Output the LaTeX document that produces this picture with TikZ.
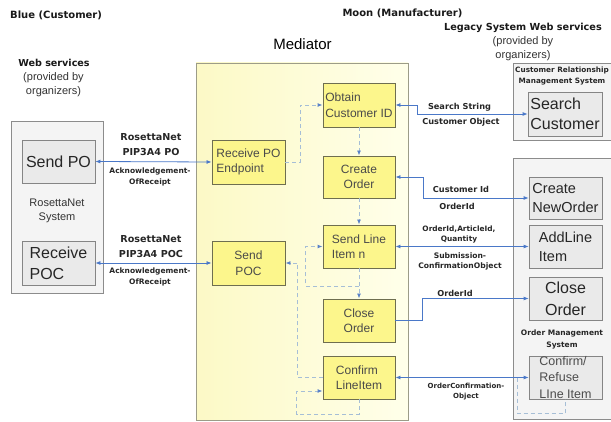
\documentclass[tikz,border=0pt]{standalone}
\usepackage{fontspec}
\setmainfont{Liberation Sans}
\newfontfamily\vlab{DejaVu Sans}
\usetikzlibrary{arrows.meta,calc}
\definecolor{arrblue}{HTML}{4A78C8}
\definecolor{dashcol}{HTML}{A6BED6}
\definecolor{tipcol}{HTML}{5A82C8}
\definecolor{panelfill}{HTML}{F4F4F4}
\definecolor{panelborder}{HTML}{8C8C8C}
\definecolor{gfill}{HTML}{EAEAEA}
\definecolor{gborder}{HTML}{858585}
\definecolor{yfill}{HTML}{FCF68C}
\definecolor{yborder}{HTML}{6E6E50}
\definecolor{ytext}{HTML}{4A4A4A}
\definecolor{medleft}{HTML}{FCF9C6}
\definecolor{medright}{HTML}{FFFFEA}
\definecolor{medborder}{HTML}{9C9C88}
\tikzset{
  panel/.style={draw=panelborder, fill=panelfill, inner sep=0pt, line width=0.8pt},
  gbox/.style={draw=gborder, fill=gfill, inner sep=0pt, line width=0.8pt, text=black!85},
  ybox/.style={draw=yborder, fill=yfill, inner sep=0pt, line width=0.9pt, text=ytext,
    font=\fontsize{12}{15.5}\selectfont},
  lbl/.style={inner sep=0pt, text=black!85, align=center, font=\vlab\bfseries\fontsize{8.2}{10}\selectfont},
  title/.style={inner sep=0pt, text=black!90, align=center, font=\vlab\bfseries\fontsize{10}{12}\selectfont},
  reg/.style={inner sep=0pt, text=black!80, align=center, font=\fontsize{11}{14}\selectfont},
  arr/.style={draw=arrblue, line width=0.8pt, {Latex[length=5pt,width=4pt]}-{Latex[length=5pt,width=4pt]}},
  arrone/.style={draw=arrblue, line width=0.8pt, -{Latex[length=5pt,width=4pt]}},
  dsh/.style={draw=dashcol, line width=0.9pt, dash pattern=on 4pt off 3pt, -{Latex[length=5pt,width=4pt,color=tipcol]}},
  dshplain/.style={draw=dashcol, line width=0.9pt, dash pattern=on 4pt off 3pt},
}
\begin{document}
\begin{tikzpicture}[x=1pt,y=-1pt]
\useasboundingbox (0,0) rectangle (611,422);
\fill[white] (0,0) rectangle (611,422);

% titles
\node[title, anchor=west] (tblue) at (10,15) {Blue (Customer)};
\node[title] (tmoon) at (402.5,13) {Moon (Manufacturer)};
\node[inner sep=0pt, font=\fontsize{15}{18}\selectfont] (tmed) at (302.5,44) {Mediator};
\node[title, font=\vlab\bfseries\fontsize{9.7}{12}\selectfont] (tleg) at (523,28) {Legacy System Web services};
\node[reg] (tleg2) at (523,49) {(provided by\\organizers)};
\node[title, font=\vlab\bfseries\fontsize{9.6}{12}\selectfont] (tws) at (54,63) {Web services};
\node[reg] (tws2) at (53.5,85) {(provided by\\organizers)};

% panels
\node[panel, minimum width=92pt, minimum height=172pt] (lpanel) at (57,207) {};
\node[panel, minimum width=112pt, minimum height=77pt] (crm) at (569,101.5) {};
\node[panel, minimum width=112pt, minimum height=261pt] (oms) at (569,288.5) {};
\node[draw=medborder, line width=0.9pt, left color=medleft, right color=medright,
      inner sep=0pt, minimum width=212pt, minimum height=357pt] (med) at (302,241.5) {};

\node[reg] (trs) at (57,211) {RosettaNet\\System};
\node[lbl, font=\vlab\bfseries\fontsize{7.3}{11}\selectfont] (tcrm) at (562,76.5) {Customer Relationship\\Management System};
\node[lbl, font=\vlab\bfseries\fontsize{7.5}{12}\selectfont] (toms) at (562,339) {Order Management\\System};

% left boxes
\node[gbox, minimum width=73pt, minimum height=43pt, font=\fontsize{16}{20}\selectfont] (spo) at (58.5,161.5) {Send PO};
\node[gbox, minimum width=73pt, minimum height=44pt, align=left, font=\fontsize{16}{21}\selectfont] (rpoc) at (58.5,263) {Receive\\POC};

% mediator boxes
\node[ybox, minimum width=73pt, minimum height=44pt, align=left] (rpo) at (248.5,162) {Receive PO\\Endpoint};
\node[ybox, minimum width=73pt, minimum height=44pt, align=center] (spoc) at (248.5,263) {Send\\POC};
\node[ybox, minimum width=72pt, minimum height=44pt, align=left] (obt) at (359,105) {Obtain\\Customer ID};
\node[ybox, minimum width=72pt, minimum height=42pt, align=center] (co) at (359,177) {Create\\Order};
\node[ybox, minimum width=72pt, minimum height=43pt, align=left] (sli) at (359,246.5) {Send Line\\Item n};
\node[ybox, minimum width=72pt, minimum height=43pt, align=center] (clo) at (359,320.5) {Close\\Order};
\node[ybox, minimum width=72pt, minimum height=43pt, align=left] (cfm) at (359,377.5) {Confirm\\LineItem};

% right boxes
\node[gbox, minimum width=74pt, minimum height=44pt, align=left, font=\fontsize{16}{20}\selectfont] (srch) at (565,114) {Search\\Customer};
\node[gbox, minimum width=73pt, minimum height=42pt, align=left, font=\fontsize{14.5}{19}\selectfont] (cno) at (565.5,198) {Create\\NewOrder};
\node[gbox, minimum width=73pt, minimum height=43pt, align=left, font=\fontsize{14.5}{19}\selectfont] (ali) at (565.5,246.5) {AddLine\\Item};
\node[gbox, minimum width=73pt, minimum height=43pt, align=center, font=\fontsize{16}{22}\selectfont] (rclo) at (565.5,298.5) {Close\\Order};
\node[gbox, minimum width=73pt, minimum height=43pt, align=left, text=black!70, font=\fontsize{12.5}{16.5}\selectfont] (crf) at (565.5,377.5) {Confirm/\\Refuse\\LIne Item};

% blue connectors
\draw[arr] (spo.east) -- (rpo.west);
\draw[arr] (rpoc.east) -- (spoc.west);
\draw[arr] (obt.east) -- ++(22,0) |- (srch.west);
\draw[arr] (co.east) -- ++(28,0) |- (cno.west);
\draw[arr] (sli.east) -- (ali.west);
\draw[arrone] (clo.east) -- ++(27,0) |- (rclo.west);
\draw[arr] (cfm.east) -- (crf.west);

% connector labels
\node[lbl, font=\vlab\bfseries\fontsize{9.6}{15}\selectfont] (l1) at (151,144.5) {RosettaNet\\PIP3A4 PO};
\node[lbl, font=\vlab\bfseries\fontsize{7.5}{11}\selectfont] (l2) at (150,176.5) {Acknowledgement-\\OfReceipt};
\node[lbl, font=\vlab\bfseries\fontsize{9.6}{15}\selectfont] (l3) at (151,247) {RosettaNet\\PIP3A4 POC};
\node[lbl, font=\vlab\bfseries\fontsize{7.5}{11}\selectfont] (l4) at (150,277) {Acknowledgement-\\OfReceipt};
\node[lbl] (l5) at (459.5,107) {Search String};
\node[lbl] (l6) at (461,122) {Customer Object};
\node[lbl] (l7) at (461,189) {Customer Id};
\node[lbl] (l8) at (457,206) {OrderId};
\node[lbl, font=\vlab\bfseries\fontsize{7.4}{10}\selectfont] (l9) at (459,234) {OrderId,ArticleId,\\Quantity};
\node[lbl, font=\vlab\bfseries\fontsize{7.6}{10}\selectfont] (l10) at (460,261) {Submission-\\ConfirmationObject};
\node[lbl] (l11) at (455,293) {OrderId};
\node[lbl, font=\vlab\bfseries\fontsize{7}{10}\selectfont] (l12) at (466,392) {OrderConfirmation-\\Object};

% dashed control flow
\draw[dsh] (rpo.east) -- ++(15,0) |- (obt.west);
\draw[dsh] (obt.south) -- (co.north);
\draw[dsh] (co.south) -- (sli.north);
\draw[dsh] (sli.south) -- (clo.north);
\coordinate (loopA) at (359,286);
\draw[dsh] (loopA) -| ([xshift=-17pt]sli.west) -- (sli.west);
\draw[dsh] (cfm.west) -- ++(-25,0) |- (spoc.east);
\coordinate (cl) at ([yshift=-13.5pt]cfm.west);
\draw[dsh] (cfm.south) -- ++(0,15) -| ([xshift=-26pt]cl) -- (cl);
\draw[dshplain] ([xshift=-11pt]crf.west) -- ++(0,36) -| (crf.south);
\end{tikzpicture}
\end{document}
